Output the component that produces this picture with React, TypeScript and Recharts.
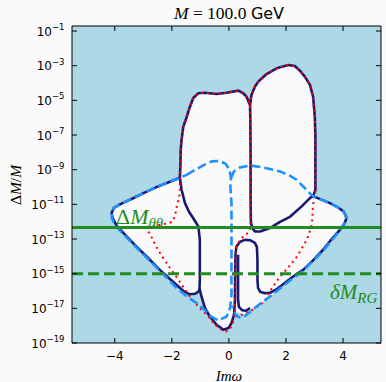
import React from "react";
import {
  ComposedChart,
  Area,
  Line,
  XAxis,
  YAxis,
  CartesianGrid,
  ReferenceLine,
} from "recharts";

// ---------- data (x = Im ω, y = log10(ΔM/M)) ----------
const xTicks = [-4, -2, 0, 2, 4];
const yTickExponents = [-19, -17, -15, -13, -11, -9, -7, -5, -3, -1];
const xDomain = [-5.5, 5.33];
const yDomain = [-19, -0.71];

const deltaMThetaTheta = -12.34;
const deltaMRG = -15.0;

// allowed (white) region: [x, lower, upper]
const allowedRegion: [number, number, number][] = [
  [-4.11, -11.49, -11.49],
  [-4.1, -11.84, -11.29],
  [-3.93, -12.33, -11.09],
  [-3.61, -12.9, -10.84],
  [-3.23, -13.51, -10.55],
  [-2.84, -14.17, -10.22],
  [-2.42, -14.83, -9.9],
  [-2.0, -15.47, -9.66],
  [-1.72, -15.87, -9.47],
  [-1.7, -15.89, -7.86],
  [-1.66, -15.95, -7.28],
  [-1.6, -16.01, -6.53],
  [-1.48, -16.16, -5.96],
  [-1.37, -16.22, -5.38],
  [-1.25, -16.22, -4.86],
  [-1.16, -16.16, -4.66],
  [-1.07, -16.04, -4.59],
  [-1.02, -15.9, -4.57],
  [-0.96, -16.33, -4.56],
  [-0.84, -16.98, -4.56],
  [-0.67, -17.47, -4.6],
  [-0.43, -17.95, -4.63],
  [-0.2, -18.26, -4.57],
  [-0.02, -18.18, -4.54],
  [0.09, -17.89, -4.52],
  [0.18, -17.43, -4.46],
  [0.25, -17.25, -4.44],
  [0.33, -17.22, -4.44],
  [0.5, -17.34, -4.59],
  [0.62, -17.25, -4.79],
  [0.71, -17.17, -5.17],
  [0.75, -17.14, -5.26],
  [0.79, -17.08, -4.69],
  [0.91, -16.98, -4.21],
  [1.03, -16.82, -3.92],
  [1.2, -16.6, -3.65],
  [1.32, -16.45, -3.48],
  [1.67, -16.01, -3.15],
  [2.08, -15.48, -2.96],
  [2.31, -15.18, -3.02],
  [2.49, -14.98, -3.29],
  [2.66, -14.75, -3.63],
  [2.84, -14.49, -4.11],
  [2.95, -14.31, -4.79],
  [3.01, -14.2, -5.94],
  [3.03, -14.17, -7.09],
  [3.04, -14.16, -10.16],
  [3.05, -14.14, -10.63],
  [3.29, -13.71, -10.75],
  [3.54, -13.28, -10.93],
  [3.82, -12.67, -11.17],
  [4.03, -12.18, -11.43],
  [4.12, -11.81, -11.75],
];

// solid navy contour pieces
const navyLobes: [number, number][] = [
  [-1.72, -9.47], [-1.7, -8.72], [-1.69, -7.86], [-1.66, -7.28], [-1.6, -6.53],
  [-1.48, -5.96], [-1.37, -5.38], [-1.25, -4.86], [-1.07, -4.59], [-0.84, -4.56],
  [-0.43, -4.63], [-0.08, -4.56], [0.33, -4.44], [0.5, -4.59], [0.62, -4.79],
  [0.71, -5.17], [0.74, -5.26], [0.79, -4.69], [0.91, -4.21], [1.03, -3.92],
  [1.32, -3.48], [1.67, -3.15], [2.08, -2.96], [2.31, -3.02], [2.49, -3.29],
  [2.66, -3.63], [2.84, -4.11], [2.95, -4.79], [3.01, -5.94], [3.03, -7.09],
  [3.03, -9.58], [3.03, -10.16], [2.96, -10.5],
];
const navyNotch: [number, number][] = [
  [0.74, -5.26], [0.75, -6.12], [0.76, -8.43], [0.76, -10.74], [0.77, -12.01],
  [0.81, -12.36], [0.91, -12.56], [1.09, -12.57], [1.44, -12.37], [1.79, -12.01],
  [2.14, -11.72], [2.54, -11.13], [2.84, -10.64], [2.96, -10.5],
];
const navyLeftEdge: [number, number][] = [
  [-1.72, -9.47], [-2.07, -9.7], [-2.52, -9.99], [-2.94, -10.31], [-3.36, -10.65],
  [-3.82, -11.0], [-4.03, -11.2], [-4.11, -11.49], [-4.08, -11.78], [-3.93, -12.24],
  [-3.61, -12.81], [-3.23, -13.45], [-2.84, -14.08], [-2.42, -14.78], [-2.0, -15.41],
  [-1.6, -15.99], [-1.37, -16.19], [-1.19, -16.16], [-1.07, -16.04], [-1.02, -15.87],
];
const navyInner: [number, number][] = [
  [-1.72, -9.47], [-1.66, -10.16], [-1.54, -10.93], [-1.4, -11.43], [-1.25, -11.8],
  [-1.07, -12.28], [-1.02, -13.05], [-1.02, -14.2], [-1.02, -15.35], [-1.03, -15.81],
  [-1.02, -15.93], [-0.96, -16.33], [-0.84, -16.98], [-0.67, -17.47], [-0.43, -17.95],
  [-0.2, -18.23], [-0.02, -18.14], [0.09, -17.85], [0.18, -17.37], [0.21, -16.6],
  [0.22, -15.06], [0.23, -13.91], [0.26, -13.45], [0.39, -13.16], [0.56, -13.05],
  [0.74, -13.07], [0.91, -13.22], [0.98, -13.45], [1.0, -14.2], [1.0, -15.35],
  [1.02, -15.81], [1.09, -16.04], [1.23, -16.12], [1.44, -16.1], [1.65, -15.93],
  [1.9, -15.61], [2.24, -15.18], [2.6, -14.78], [2.94, -14.25], [3.3, -13.62],
  [3.64, -12.93], [3.89, -12.47], [4.06, -12.07], [4.12, -11.78], [4.03, -11.43],
  [3.82, -11.17], [3.54, -10.93], [3.26, -10.74], [3.01, -10.57], [2.96, -10.5],
];
const navyHook: [number, number][] = [
  [0.32, -13.91], [0.32, -16.5], [0.35, -16.91], [0.46, -17.11], [0.6, -17.14], [0.74, -16.99],
];

// red dotted contour pieces
const redLeft: [number, number][] = [
  [-2.94, -12.3], [-2.77, -12.7], [-2.49, -13.62], [-2.31, -14.08], [-2.07, -14.66],
  [-1.82, -15.23], [-1.61, -15.75], [-1.37, -16.33], [-1.19, -16.69], [-0.9, -17.18],
  [-0.67, -17.56], [-0.49, -17.95], [-0.26, -18.23], [-0.08, -18.33], [0.04, -18.18],
  [0.14, -17.83], [0.21, -17.2], [0.22, -16.5], [0.23, -14.2], [0.25, -13.51],
  [0.32, -13.22], [0.46, -12.93], [0.67, -12.64], [0.76, -12.3], [0.76, -10.74],
  [0.75, -6.12], [0.74, -5.26], [0.71, -5.17], [0.62, -4.79], [0.5, -4.59],
  [0.33, -4.44], [-0.08, -4.56], [-0.43, -4.63], [-0.84, -4.56], [-1.07, -4.59],
  [-1.25, -4.86], [-1.37, -5.38], [-1.48, -5.96], [-1.6, -6.53], [-1.66, -7.28],
  [-1.69, -7.86], [-1.7, -8.72], [-1.71, -9.47], [-1.72, -9.88], [-1.72, -10.35],
  [-1.77, -10.74], [-1.83, -11.14], [-1.89, -11.7], [-2.01, -12.03], [-2.24, -12.12],
  [-2.59, -12.24], [-2.94, -12.3],
];
const redRight: [number, number][] = [
  [0.74, -5.26], [0.79, -4.69], [0.91, -4.21], [1.03, -3.92], [1.32, -3.48],
  [1.67, -3.15], [2.08, -2.96], [2.31, -3.02], [2.49, -3.29], [2.66, -3.63],
  [2.84, -4.11], [2.95, -4.79], [3.01, -5.94], [3.03, -7.09], [3.03, -9.58],
  [3.03, -10.23], [2.94, -11.13], [2.92, -11.89], [2.89, -12.3], [2.73, -13.05],
  [2.38, -14.03], [2.07, -14.66], [1.79, -15.18], [1.44, -15.99], [1.26, -16.6],
  [1.09, -16.79], [0.91, -16.98], [0.74, -17.18], [0.5, -17.33], [0.33, -17.47],
  [0.21, -17.31],
];

// light-blue dashed contour pieces
const blueLeft: [number, number][] = [
  [-1.48, -9.3], [-1.19, -9.01], [-0.9, -8.75], [-0.6, -8.52], [-0.32, -8.49],
  [-0.11, -8.67], [0.02, -9.01], [0.07, -9.47], [0.05, -9.99], [0.09, -10.91],
  [0.09, -12.64], [0.09, -14.2], [0.09, -16.22], [0.04, -16.98], [-0.08, -17.47],
  [-0.37, -17.69], [-0.67, -17.43], [-0.78, -17.2], [-1.13, -16.69], [-1.48, -16.31],
  [-1.83, -15.83], [-2.42, -14.83], [-3.23, -13.51], [-3.93, -12.33], [-4.1, -11.84],
  [-4.11, -11.49], [-4.03, -11.2], [-3.82, -11.0], [-3.36, -10.65], [-2.94, -10.31],
  [-2.52, -9.99], [-2.07, -9.7], [-1.72, -9.47], [-1.48, -9.3],
];
const blueRight: [number, number][] = [
  [0.07, -9.47], [0.18, -9.09], [0.39, -8.87], [0.68, -8.78], [0.85, -8.78],
  [1.2, -8.87], [1.79, -9.1], [2.14, -9.35], [2.37, -9.58], [2.72, -10.16],
  [2.89, -10.45], [3.01, -10.57], [3.54, -10.93], [3.82, -11.17], [4.03, -11.43],
  [4.12, -11.78], [4.06, -12.07], [3.89, -12.5], [3.3, -13.68], [2.6, -14.83],
  [1.9, -15.7], [1.54, -16.19], [1.2, -16.6], [0.97, -16.89], [0.62, -17.37],
  [0.44, -17.56], [0.25, -17.43], [0.11, -16.85],
];

// ---------- styles ----------
const NAVY = "#191970";
const RED = "#ff0000";
const BLUE = "#1e90ff";
const GREEN = "#228b22";
const BG = "#add8e6";
const PAPER = "#fafafa";

const pts = (a: [number, number][]) => a.map(([x, y]) => ({ x, y }));
const regionData = allowedRegion.map(([x, lo, hi]) => ({ x, range: [lo, hi] }));

const LeftTick = (props: any) => {
  const { x, y, payload } = props;
  return (
    <g>
      <line x1={x} x2={x + 5} y1={y} y2={y} stroke="#000" strokeWidth={1} />
      <text
        x={x - 7.5}
        y={y + 4.5}
        textAnchor="end"
        fontFamily="DejaVu Sans"
        fontSize={12}
        fill="#000"
      >
        10
        <tspan dy={-5.5} fontSize={8.5}>
          {"\u2212" + Math.abs(payload.value)}
        </tspan>
      </text>
    </g>
  );
};
const RightTick = (props: any) => {
  const { x, y } = props;
  return <line x1={x - 5} x2={x} y1={y} y2={y} stroke="#000" strokeWidth={1} />;
};
const BottomTick = (props: any) => {
  const { x, y, payload } = props;
  const v = payload.value;
  return (
    <g>
      <line x1={x} x2={x} y1={y - 5} y2={y} stroke="#000" strokeWidth={1} />
      <text
        x={x}
        y={y + 17}
        textAnchor="middle"
        fontFamily="DejaVu Sans"
        fontSize={12}
        fill="#000"
      >
        {v < 0 ? "\u2212" + Math.abs(v) : String(v)}
      </text>
    </g>
  );
};
const TopTick = (props: any) => {
  const { x, y } = props;
  return <line x1={x} x2={x} y1={y} y2={y + 5} stroke="#000" strokeWidth={1} />;
};

const lineCommon = {
  dataKey: "y",
  dot: false,
  activeDot: false,
  isAnimationActive: false,
  type: "linear" as const,
  strokeLinejoin: "round" as const,
};

export default function App() {
  return (
    <div
      style={{
        position: "absolute",
        left: 0,
        top: 0,
        width: 386,
        height: 382,
        background: PAPER,
        overflow: "hidden",
      }}
    >
      <ComposedChart
        width={386}
        height={382}
        data={regionData}
        margin={{ top: 0, right: 0, bottom: 0, left: 0 }}
      >
        <CartesianGrid fill={BG} fillOpacity={1} horizontal={false} vertical={false} stroke="none" />
        <XAxis
          dataKey="x"
          type="number"
          domain={xDomain}
          ticks={xTicks}
          allowDataOverflow
          height={39}
          tickSize={0}
          tickMargin={0}
          tickLine={false}
          axisLine={{ stroke: "#000", strokeWidth: 1 }}
          tick={<BottomTick />}
          interval={0}
        />
        <XAxis
          xAxisId="top"
          orientation="top"
          dataKey="x"
          type="number"
          domain={xDomain}
          ticks={xTicks}
          allowDataOverflow
          height={26}
          tickSize={0}
          tickMargin={0}
          tickLine={false}
          axisLine={{ stroke: "#000", strokeWidth: 1 }}
          tick={<TopTick />}
          interval={0}
        />
        <YAxis
          type="number"
          domain={yDomain}
          ticks={yTickExponents}
          allowDataOverflow
          width={72}
          tickSize={0}
          tickMargin={0}
          tickLine={false}
          axisLine={{ stroke: "#000", strokeWidth: 1 }}
          tick={<LeftTick />}
          interval={0}
        />
        <YAxis
          yAxisId="right"
          orientation="right"
          type="number"
          domain={yDomain}
          ticks={yTickExponents}
          allowDataOverflow
          width={5}
          tickSize={0}
          tickMargin={0}
          tickLine={false}
          axisLine={{ stroke: "#000", strokeWidth: 1 }}
          tick={<RightTick />}
          interval={0}
        />
        <Area
          dataKey="range"
          type="linear"
          fill={PAPER}
          fillOpacity={1}
          stroke="none"
          isAnimationActive={false}
          dot={false}
          activeDot={false}
        />
        <Line {...lineCommon} data={pts(navyLobes)} stroke={NAVY} strokeWidth={2.6} />
        <Line {...lineCommon} data={pts(navyNotch)} stroke={NAVY} strokeWidth={2.6} />
        <Line {...lineCommon} data={pts(navyLeftEdge)} stroke={NAVY} strokeWidth={2.6} />
        <Line {...lineCommon} data={pts(navyInner)} stroke={NAVY} strokeWidth={2.6} />
        <Line {...lineCommon} data={pts(navyHook)} stroke={NAVY} strokeWidth={2.6} />
        <Line {...lineCommon} data={pts(redLeft)} stroke={RED} strokeWidth={2} strokeDasharray="2 3.8" />
        <Line {...lineCommon} data={pts(redRight)} stroke={RED} strokeWidth={2} strokeDasharray="2 3.8" />
        <Line {...lineCommon} data={pts(blueLeft)} stroke={BLUE} strokeWidth={2.6} strokeDasharray="9 4" />
        <Line {...lineCommon} data={pts(blueRight)} stroke={BLUE} strokeWidth={2.6} strokeDasharray="9 4" />
        <ReferenceLine y={deltaMThetaTheta} stroke={GREEN} strokeWidth={3} />
        <ReferenceLine y={deltaMRG} stroke={GREEN} strokeWidth={3} strokeDasharray="11 5" />
      </ComposedChart>
      <svg
        width={386}
        height={382}
        style={{ position: "absolute", left: 0, top: 0, pointerEvents: "none" }}
      >
        <text x={229} y={18.5} textAnchor="middle" fontSize={17.5} fill="#000">
          <tspan fontFamily="Liberation Serif" fontStyle="italic">M</tspan>
          <tspan fontFamily="Liberation Serif">{" = 100.0 "}</tspan>
          <tspan fontFamily="DejaVu Sans" fontSize={16}>GeV</tspan>
        </text>
        <text x={229} y={380.5} textAnchor="middle" fontSize={15} fontFamily="Liberation Serif" fontStyle="italic" fill="#000">
          Imω
        </text>
        <text
          transform="translate(21,185) rotate(-90)"
          textAnchor="middle"
          fontSize={15.5}
          fontFamily="Liberation Serif"
          fill="#000"
        >
          <tspan>Δ</tspan>
          <tspan fontStyle="italic">M</tspan>
          <tspan>/</tspan>
          <tspan fontStyle="italic">M</tspan>
        </text>
        <text x={116} y={223.5} fontSize={22} fontFamily="Liberation Serif" fill={GREEN}>
          <tspan>Δ</tspan>
          <tspan fontStyle="italic">M</tspan>
          <tspan fontStyle="italic" fontSize={15} dy={4}>θθ</tspan>
        </text>
        <text x={330} y={298.5} fontSize={21} fontFamily="Liberation Serif" fill={GREEN} fontStyle="italic">
          <tspan>δM</tspan>
          <tspan fontSize={15} dy={4}>RG</tspan>
        </text>
      </svg>
    </div>
  );
}
